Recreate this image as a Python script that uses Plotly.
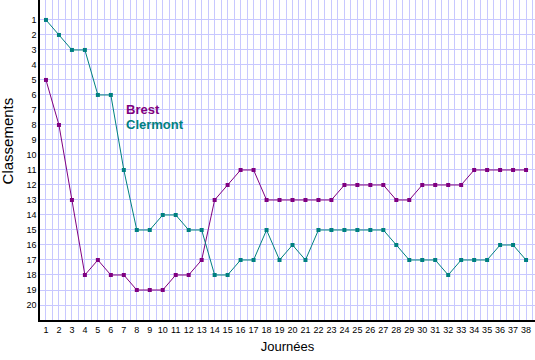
import plotly.graph_objects as go

journees = list(range(1, 39))
brest = [5, 8, 13, 18, 17, 18, 18, 19, 19, 19, 18, 18, 17, 13, 12, 11, 11, 13, 13, 13,
         13, 13, 13, 12, 12, 12, 12, 13, 13, 12, 12, 12, 12, 11, 11, 11, 11, 11]
clermont = [1, 2, 3, 3, 6, 6, 11, 15, 15, 14, 14, 15, 15, 18, 18, 17, 17, 15, 17, 16,
            17, 15, 15, 15, 15, 15, 15, 16, 17, 17, 17, 18, 17, 17, 17, 16, 16, 17]
teams = ["Brest", "Clermont"]
colors = ["#800080", "#008080"]

fig = go.Figure()
for name, vals, col in zip(teams, [brest, clermont], colors):
    fig.add_trace(go.Scatter(x=journees, y=vals, mode="lines+markers", name=name,
                             line=dict(color=col, width=1),
                             marker=dict(symbol="square", size=4, color=col)))

for i, (name, col) in enumerate(zip(teams, colors)):
    fig.add_annotation(x=7.05, y=7 + i, xref="x", yref="y", text="<b>%s</b>" % name,
                       showarrow=False, xanchor="left", yanchor="middle",
                       font=dict(family="Liberation Sans, Arial", size=13, color=col))

fig.add_annotation(x=-0.066, y=0.559, xref="paper", yref="paper", text="Classements",
                   textangle=-90, showarrow=False, xanchor="center", yanchor="middle",
                   font=dict(family="Liberation Sans, Arial", size=15, color="black"))

grid = "#c8c8ff"
fig.update_layout(
    width=535, height=360, margin=dict(l=40, r=0, t=0, b=40),
    plot_bgcolor="white", paper_bgcolor="white", showlegend=False,
    font=dict(family="Liberation Sans, Arial", color="black"),
    xaxis=dict(range=[0.54, 38.69], tickmode="array", tickvals=journees,
               ticktext=[str(j) for j in journees], tickfont=dict(size=9),
               showgrid=True, gridcolor=grid, gridwidth=1,
               minor=dict(dtick=0.5, tick0=0.5, showgrid=True, gridcolor=grid, gridwidth=1),
               showline=True, linecolor="black", linewidth=1.5, zeroline=False,
               ticks="", title=dict(text="Journées", font=dict(size=13), standoff=8)),
    yaxis=dict(range=[21, -0.33], tickmode="array", tickvals=list(range(1, 21)),
               ticktext=[str(i) for i in range(1, 21)], tickfont=dict(size=9),
               showgrid=True, gridcolor=grid, gridwidth=1,
               showline=True, linecolor="black", linewidth=1.5, zeroline=False,
               ticks=""),
)
fig.write_html("out.html")
